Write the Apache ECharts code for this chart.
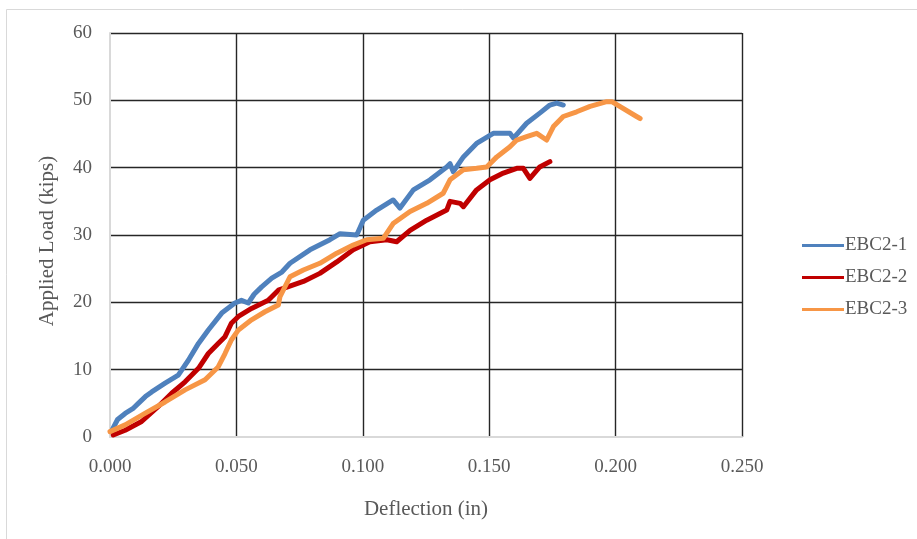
<!DOCTYPE html>
<html>
<head>
<meta charset="utf-8">
<script src="https://cdn.jsdelivr.net/npm/echarts@6/dist/echarts.min.js"></script>
<style>html,body{margin:0;padding:0;background:#fff}#c{width:917px;height:539px}</style>
</head>
<body>
<div id="c"></div>
<script>
const seriesNames = ['EBC2-1', 'EBC2-2', 'EBC2-3'];
const xTicks = ['0.000', '0.050', '0.100', '0.150', '0.200', '0.250'];
const yTicks = [0, 10, 20, 30, 40, 50, 60];

const ebc1 = [
  [0.0005, 0.8], [0.003, 2.6], [0.006, 3.5], [0.009, 4.2], [0.0112, 5.0], [0.014, 6.0],
  [0.0165, 6.7], [0.0218, 8.0], [0.027, 9.2], [0.031, 11.4], [0.035, 13.9], [0.0389, 15.9],
  [0.0442, 18.4], [0.0494, 19.9], [0.052, 20.3], [0.0547, 19.9], [0.057, 21.2], [0.060, 22.3],
  [0.064, 23.6], [0.068, 24.5], [0.0712, 25.8], [0.0791, 27.8], [0.087, 29.3], [0.091, 30.2],
  [0.0976, 30.0], [0.1002, 32.2], [0.1055, 33.7], [0.112, 35.2], [0.1147, 34.0], [0.12, 36.7],
  [0.1266, 38.2], [0.1332, 40.1], [0.1345, 40.6], [0.1358, 39.4], [0.1398, 41.6], [0.145, 43.6],
  [0.1516, 45.1], [0.1582, 45.1], [0.1596, 44.4], [0.1648, 46.6], [0.170, 48.1], [0.174, 49.3],
  [0.1767, 49.6], [0.1793, 49.3]
];
const ebc2 = [
  [0.0013, 0.3], [0.006, 1.0], [0.0125, 2.3], [0.019, 4.5], [0.0244, 6.5], [0.0297, 8.2],
  [0.035, 10.2], [0.0389, 12.4], [0.0428, 13.9], [0.0455, 14.9], [0.048, 16.9], [0.0508, 17.9],
  [0.056, 19.1], [0.0626, 20.3], [0.0666, 21.8], [0.0672, 21.8], [0.0765, 23.1], [0.083, 24.3],
  [0.0897, 26.0], [0.0962, 27.8], [0.1028, 29.0], [0.1095, 29.3], [0.1134, 29.0], [0.1187, 30.7],
  [0.1253, 32.2], [0.1332, 33.7], [0.1345, 35.0], [0.1385, 34.7], [0.1398, 34.2], [0.145, 36.7],
  [0.1503, 38.2], [0.1556, 39.2], [0.1609, 39.9], [0.1635, 39.9], [0.1661, 38.4], [0.170, 40.1],
  [0.174, 40.9]
];
const ebc3 = [
  [0.0, 0.8], [0.006, 1.8], [0.0138, 3.5], [0.0218, 5.2], [0.0297, 7.0], [0.0376, 8.5],
  [0.0428, 10.4], [0.0455, 12.4], [0.048, 14.4], [0.0508, 15.9], [0.056, 17.4], [0.0613, 18.6],
  [0.0666, 19.6], [0.0672, 20.8], [0.0712, 23.8], [0.0765, 24.8], [0.083, 25.8], [0.0897, 27.3],
  [0.0962, 28.5], [0.1015, 29.3], [0.1081, 29.5], [0.112, 31.7], [0.1187, 33.5], [0.1253, 34.7],
  [0.1318, 36.2], [0.1345, 38.2], [0.1398, 39.7], [0.145, 39.9], [0.149, 40.1], [0.153, 41.6],
  [0.1582, 43.1], [0.1609, 44.1], [0.1648, 44.6], [0.1688, 45.1], [0.1727, 44.1], [0.1754, 46.1],
  [0.1793, 47.6], [0.1846, 48.3], [0.1899, 49.1], [0.1965, 49.8], [0.1985, 49.8], [0.2083, 47.6],
  [0.2097, 47.3]
];
const seriesData = [ebc1, ebc2, ebc3];
const colors = ['#4F81BD', '#C00000', '#F79646'];

const font = 'Liberation Serif, Times New Roman, serif';
const chart = echarts.init(document.getElementById('c'), null, {renderer: 'canvas'});
chart.setOption({
  animation: false,
  backgroundColor: '#fff',
  graphic: [{
    type: 'rect', shape: {x: 6.5, y: 9.5, width: 1200, height: 1200},
    style: {fill: 'none', stroke: '#d9d9d9', lineWidth: 1}, z: -10
  }],
  grid: {left: 110, top: 33, right: 175, bottom: 102, containLabel: false},
  legend: {
    orient: 'vertical', left: 797, top: 231, itemGap: 13,
    itemWidth: 42, itemHeight: 3, icon: 'rect',
    textStyle: {fontFamily: font, fontSize: 19, color: '#595959', padding: [0, 0, 0, -4]},
    data: seriesNames
  },
  xAxis: {
    type: 'value', min: 0, max: 0.25, interval: 0.05,
    name: 'Deflection (in)', nameLocation: 'middle', nameGap: 62,
    nameTextStyle: {fontFamily: font, fontSize: 21, color: '#595959'},
    axisLine: {show: true, lineStyle: {color: '#d9d9d9', width: 2}},
    axisTick: {show: false},
    axisLabel: {
      margin: 21, fontFamily: font, fontSize: 19, color: '#595959',
      formatter: v => xTicks[Math.round(v / 0.05)]
    },
    splitLine: {show: true, showMinLine: false, lineStyle: {color: '#262626', width: 1.4}}
  },
  yAxis: {
    type: 'value', min: 0, max: 60, interval: 10,
    name: 'Applied Load (kips)', nameLocation: 'middle', nameGap: 52,
    nameTextStyle: {fontFamily: font, fontSize: 21, color: '#595959', padding: [0, 0, 0, -12]},
    axisLine: {show: true, lineStyle: {color: '#d9d9d9', width: 2}},
    axisTick: {show: false},
    axisLabel: {
      margin: 18, fontFamily: font, fontSize: 19, color: '#595959',
      formatter: v => String(yTicks[Math.round(v / 10)])
    },
    splitLine: {show: true, showMinLine: false, lineStyle: {color: '#262626', width: 1.4}}
  },
  series: seriesNames.map((n, i) => ({
    name: n, type: 'line', data: seriesData[i], showSymbol: false, symbol: 'none',
    color: colors[i],
    lineStyle: {color: colors[i], width: 5, join: 'round', cap: 'round'},
    z: 3 + i
  }))
});
</script>
</body>
</html>
